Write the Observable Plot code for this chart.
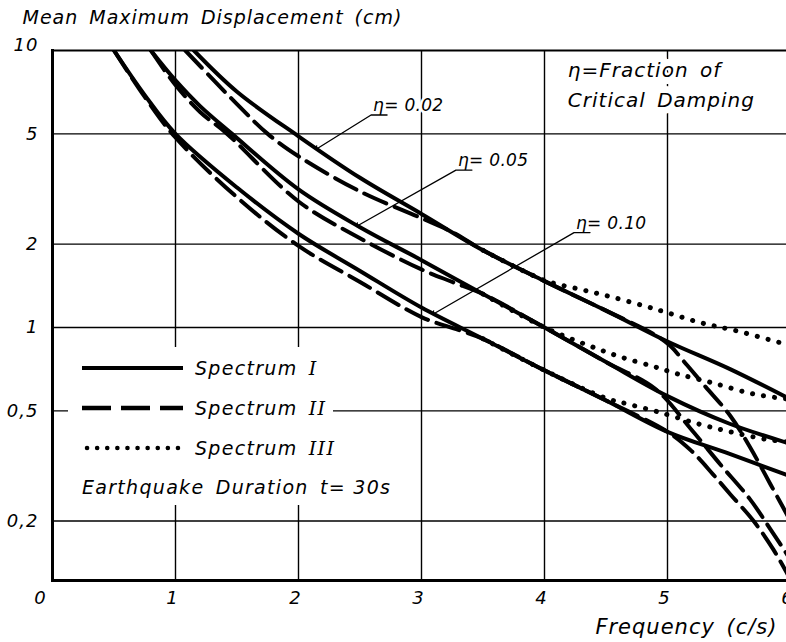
<!DOCTYPE html>
<html>
<head>
<meta charset="utf-8">
<script src="https://cdn.jsdelivr.net/npm/d3@7"></script>
<script src="https://cdn.jsdelivr.net/npm/@observablehq/plot@0.6"></script>
<style>
  html, body { margin: 0; padding: 0; background: #fff; overflow: hidden; width: 786px; height: 642px; }
  #chart { width: 800px; height: 642px; }
  #chart svg { display: block; }
</style>
</head>
<body>
<div id="chart"></div>
<script>
// Axis ticks
const xTicks = [0, 1, 2, 3, 4, 5, 6];
const yTicks = [0.2, 0.5, 1, 2, 5, 10];

// Damping ratios and spectra
const dampingRatios = [0.02, 0.05, 0.10];
const spectrumNames = ["Spectrum", "Spectrum", "Spectrum"];
const spectrumNumerals = ["I", "II", "III"];

// Spectrum I (solid) — frequency (c/s) and mean maximum displacement (cm)
const freqI_002 = [1.15, 1.5, 2, 2.5, 3, 3.5, 4, 4.5, 5, 5.5, 6];
const dispI_002 = [10, 7.1, 4.9, 3.47, 2.57, 1.9, 1.47, 1.15, 0.89, 0.71, 0.55];
const freqI_005 = [0.8, 1, 1.2, 1.46, 2, 2.5, 3, 3.5, 4, 4.5, 5, 5.5, 6];
const dispI_005 = [10, 7.8, 6.3, 5.0, 3.15, 2.3, 1.75, 1.32, 1.0, 0.75, 0.565, 0.45, 0.38];
const freqI_010 = [0.5, 0.75, 1, 1.5, 2, 2.5, 3, 3.5, 4, 4.5, 5, 5.5, 6];
const dispI_010 = [10, 6.9, 5.0, 3.2, 2.18, 1.6, 1.18, 0.91, 0.70, 0.545, 0.42, 0.35, 0.29];

// Spectrum II (dashed)
const freqII_002 = [1.08, 1.5, 1.75, 2, 2.5, 3, 3.25, 3.5, 4, 4.5, 4.9, 5.02, 5.16, 5.31, 5.51, 5.67, 5.84, 6];
const dispII_002 = [10, 6.4, 5.0, 4.15, 3.1, 2.48, 2.21, 1.9, 1.47, 1.15, 0.94, 0.86, 0.73, 0.61, 0.48, 0.37, 0.27, 0.2];
const freqII_005 = [0.8, 1, 1.2, 1.42, 2, 2.5, 3, 3.25, 3.5, 4, 4.5, 4.9, 5.19, 5.43, 5.67, 5.84, 6];
const dispII_005 = [10, 7.5, 6.0, 5.0, 2.85, 2.1, 1.62, 1.46, 1.32, 1.0, 0.75, 0.60, 0.43, 0.32, 0.24, 0.186, 0.145];
const freqII_010 = [0.5, 0.75, 1, 1.5, 2, 2.5, 3, 3.3, 3.5, 4, 4.5, 5, 5.19, 5.37, 5.51, 5.7, 5.86, 6];
const dispII_010 = [10, 6.8, 4.85, 2.95, 1.97, 1.46, 1.09, 0.98, 0.91, 0.70, 0.545, 0.42, 0.36, 0.295, 0.25, 0.20, 0.158, 0.123];

// Spectrum III (dotted)
const freqIII_002 = [3.5, 4, 4.3, 4.54, 4.8, 5, 5.27, 5.57, 6];
const dispIII_002 = [1.9, 1.48, 1.37, 1.29, 1.2, 1.13, 1.04, 0.97, 0.86];
const freqIII_005 = [3.5, 4, 4.36, 4.63, 4.9, 5.08, 5.37, 5.7, 6];
const dispIII_005 = [1.32, 1.0, 0.86, 0.78, 0.72, 0.68, 0.63, 0.575, 0.55];
const freqIII_010 = [3.5, 4, 4.5, 4.67, 4.92, 5.24, 5.51, 5.81, 6];
const dispIII_010 = [0.91, 0.70, 0.555, 0.53, 0.496, 0.45, 0.42, 0.394, 0.385];

// Damping labels with leader lines pointing at the Spectrum I curves
const labelTexts = ["η= 0.02", "η= 0.05", "η= 0.10"];
const labelFreq = [2.59, 3.28, 4.24];
const labelDisp = [5.85, 3.7, 2.2];
const leaderFreq = [2.15, 2.48, 3.1];

const curveTable = [
  ["I", 0.02, freqI_002, dispI_002],
  ["I", 0.05, freqI_005, dispI_005],
  ["I", 0.10, freqI_010, dispI_010],
  ["II", 0.02, freqII_002, dispII_002],
  ["II", 0.05, freqII_005, dispII_005],
  ["II", 0.10, freqII_010, dispII_010],
  ["III", 0.02, freqIII_002, dispIII_002],
  ["III", 0.05, freqIII_005, dispIII_005],
  ["III", 0.10, freqIII_010, dispIII_010]
];

const rows = [];
for (const [spectrum, eta, fs, vs] of curveTable) {
  fs.forEach((f, i) => rows.push({spectrum, eta, f, v: vs[i]}));
}

// log-linear interpolation along a curve
function interpLog(fs, vs, f) {
  for (let i = 0; i < fs.length - 1; i++) {
    if (f >= fs[i] && f <= fs[i + 1]) {
      const t = (f - fs[i]) / (fs[i + 1] - fs[i]);
      return 10 ** (Math.log10(vs[i]) + t * (Math.log10(vs[i + 1]) - Math.log10(vs[i])));
    }
  }
  return vs[vs.length - 1];
}

// each leader: underline under the η, then a line down to its curve
const solidCurves = [[freqI_002, dispI_002], [freqI_005, dispI_005], [freqI_010, dispI_010]];
const underlineLen = 0.13;
const leaders = [];
dampingRatios.forEach((eta, i) => {
  const [fs, vs] = solidCurves[i];
  leaders.push({eta, f: labelFreq[i] + underlineLen, v: labelDisp[i]});
  leaders.push({eta, f: labelFreq[i], v: labelDisp[i]});
  leaders.push({eta, f: leaderFreq[i], v: interpLog(fs, vs, leaderFreq[i])});
});
const labels = labelTexts.map((text, i) => ({text, f: labelFreq[i], v: labelDisp[i]}));

const fmtY = d => String(d).replace(".", ",");
const fmtX = d => String(d);
const FONT = "DejaVu Sans";

const bySpectrum = s => rows.filter(d => d.spectrum === s);

const chart = Plot.plot({
  width: 800,
  height: 642,
  marginTop: 50,
  marginBottom: 62,
  marginLeft: 52,
  marginRight: 10,
  style: {fontFamily: FONT, fontStyle: "italic", fontSize: "18px", color: "black", background: "white", overflow: "visible", letterSpacing: "1px", wordSpacing: "4px"},
  x: {domain: [0, 6], label: null},
  y: {type: "log", domain: [0.122, 10], label: null},
  marks: [
    Plot.gridX(xTicks.filter(d => d > 0), {stroke: "black", strokeOpacity: 1, strokeWidth: 1.4}),
    Plot.gridY(yTicks.filter(d => d < 10), {stroke: "black", strokeOpacity: 1, strokeWidth: 1.4}),
    Plot.ruleY([10], {stroke: "black", strokeWidth: 2}),
    Plot.frame({anchor: "left", stroke: "black", strokeWidth: 3}),
    Plot.frame({anchor: "bottom", stroke: "black", strokeWidth: 3}),
    Plot.axisY(yTicks.filter(d => d < 10), {tickSize: 0, tickPadding: 14, tickFormat: fmtY, fontSize: 18, fontStyle: "italic"}),
    Plot.axisY([10], {tickSize: 0, tickPadding: 14, dy: -5, tickFormat: fmtY, fontSize: 18, fontStyle: "italic"}),
    Plot.axisX(xTicks.filter(d => d > 0), {tickSize: 0, tickPadding: 11, dx: -3, tickFormat: fmtX, fontSize: 18, fontStyle: "italic"}),
    Plot.axisX([0], {tickSize: 0, tickPadding: 11, dx: -12, tickFormat: fmtX, fontSize: 18, fontStyle: "italic"}),

    // Spectrum I, II, III
    Plot.line(bySpectrum("I"), {x: "f", y: "v", z: "eta", stroke: "black", strokeWidth: 4, curve: "catmull-rom", clip: true}),
    Plot.line(bySpectrum("II"), {x: "f", y: "v", z: "eta", stroke: "black", strokeWidth: 4, strokeDasharray: "24,9", curve: "catmull-rom", clip: true}),
    Plot.line(bySpectrum("III"), {x: "f", y: "v", z: "eta", stroke: "black", strokeWidth: 5, strokeDasharray: "0.1,11", strokeLinecap: "round", curve: "catmull-rom", clip: true}),

    // damping labels, then their underlines and leaders on top
    Plot.text(labels, {x: "f", y: "v", text: "text", textAnchor: "start", lineAnchor: "bottom", dx: 2, dy: -4, fontSize: 17, fontStyle: "italic", stroke: "white", strokeWidth: 5, paintOrder: "stroke", fill: "black"}),
    Plot.line(leaders, {x: "f", y: "v", z: "eta", stroke: "black", strokeWidth: 1.3, markerEnd: "arrow"}),

    // key
    Plot.text(["η=Fraction of\nCritical Damping"], {x: 4.19, y: 10, textAnchor: "start", lineAnchor: "top", dy: 5, lineHeight: 1.5, fontSize: 20, fontStyle: "italic", stroke: "white", strokeWidth: 14, paintOrder: "stroke", fill: "black"}),

    // axis titles
    Plot.text(["Mean Maximum Displacement (cm)"], {frameAnchor: "top-left", textAnchor: "start", lineAnchor: "middle", dx: -30, dy: -33, fontSize: 19, fontStyle: "italic"}),
    Plot.text(["Frequency (c/s)"], {frameAnchor: "bottom-right", textAnchor: "end", lineAnchor: "middle", dx: -13, dy: 47, fontSize: 21, fontStyle: "italic"})
  ]
});

const svg = d3.select(chart);

// tighter lettering for the damping labels
svg.selectAll("text").filter(function () { return labelTexts.includes(this.textContent); })
  .attr("letter-spacing", "0.3px").attr("word-spacing", "0px");

// Legend block
const legend = svg.append("g")
  .attr("font-family", FONT).attr("font-style", "italic").attr("font-size", 19)
  .attr("text-anchor", "start").attr("letter-spacing", "1.3px").attr("word-spacing", "4px");
legend.append("rect").attr("x", 68).attr("y", 347).attr("width", 265).attr("height", 158).attr("fill", "white");
const styles = [
  {dash: null, width: 4, cap: "butt", x1: 82},
  {dash: "29,10", width: 4.5, cap: "butt", x1: 82},
  {dash: "0.1,10", width: 4.5, cap: "round", x1: 87}
];
spectrumNames.forEach((name, i) => {
  const y = 368 + i * 40;
  const s = styles[i];
  legend.append("line").attr("x1", s.x1).attr("x2", 183).attr("y1", y).attr("y2", y)
    .attr("stroke", "black").attr("stroke-width", s.width).attr("stroke-linecap", s.cap)
    .attr("stroke-dasharray", s.dash);
  const t = legend.append("text").attr("x", 195).attr("y", y).attr("dy", "0.35em");
  t.append("tspan").text(name + " ");
  t.append("tspan").attr("font-family", "DejaVu Serif").text(spectrumNumerals[i]);
});
const note = legend.append("text").attr("x", 82).attr("y", 487).attr("dy", "0.35em");
note.append("tspan").text("Earthquake Duration ");
note.append("tspan").attr("word-spacing", "0px").text("t= 30s");

document.getElementById("chart").appendChild(chart);
</script>
</body>
</html>
